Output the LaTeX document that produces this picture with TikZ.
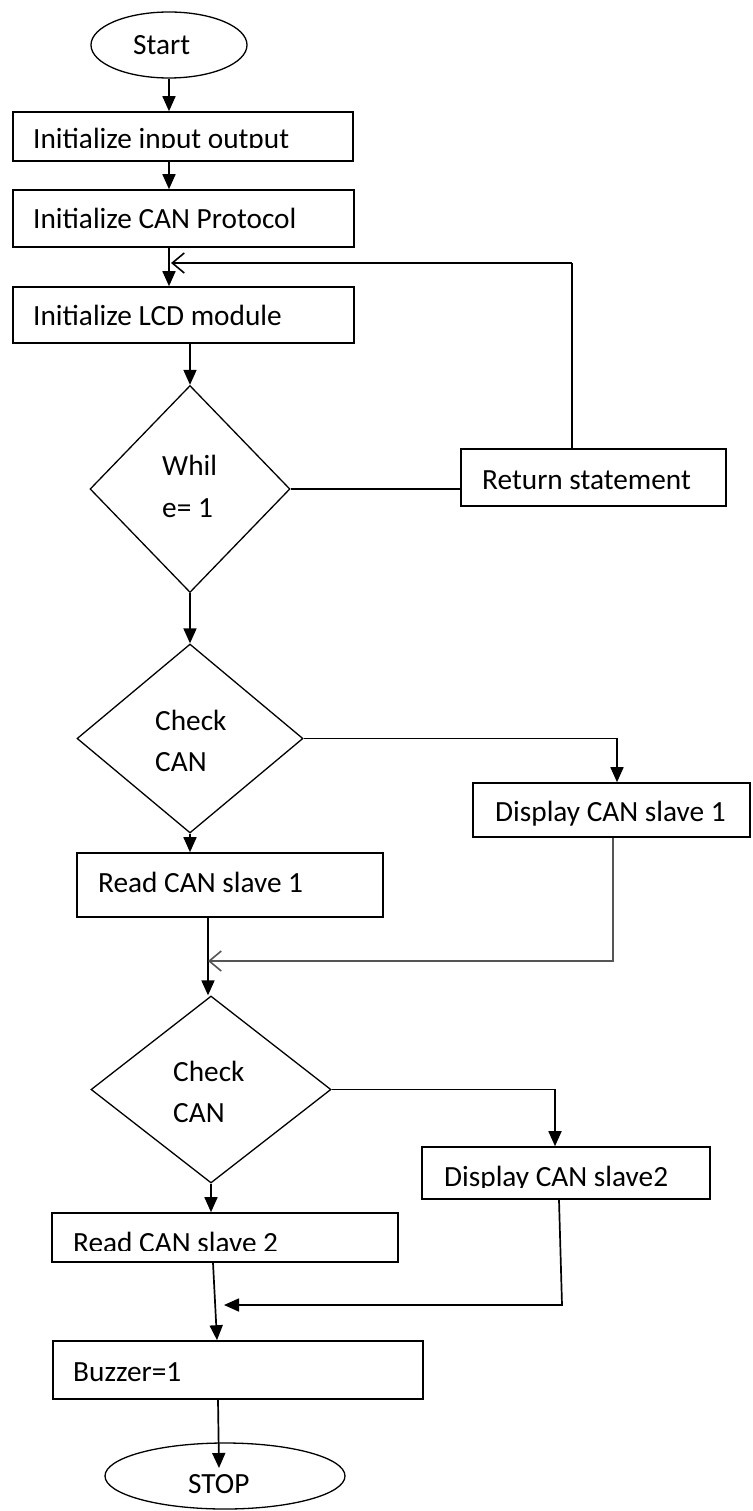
\documentclass[tikz,border=0pt]{standalone}
\usepackage{fontspec}
\setmainfont{Carlito}
\usetikzlibrary{shapes.geometric,arrows.meta}
\definecolor{retgray}{HTML}{555555}
\begin{document}
\begin{tikzpicture}[x=1pt,y=-1pt,
  box/.style={draw,line width=1.6pt,rectangle,inner sep=0pt},
  term/.style={draw,line width=1.3pt,ellipse,inner sep=0pt},
  dec/.style={draw,line width=1.3pt,diamond,inner sep=0pt},
  lbl/.style={anchor=base west,inner sep=0pt,font=\fontsize{29.3}{35}\selectfont},
  arr/.style={line width=1.7pt,-{Triangle[width=13pt,length=15pt]}},
  barb/.style={line width=1.6pt,-{Straight Barb[width=20pt,length=12pt]}},
  ln/.style={line width=1.6pt}]
\useasboundingbox (0,0) rectangle (752,1511);
% nodes
\node[term,minimum width=156pt,minimum height=66pt] (start) at (169,45) {};
\node[lbl] (tstart) at (133,55) {Start};
\node[box,minimum width=340pt,minimum height=49pt] (b1) at (183,136.5) {};
\begin{scope}
\clip (14,113) rectangle (352,147.5);
\node[lbl] (tb1) at (33,149) {Initialize input output};
\end{scope}
\node[box,minimum width=341pt,minimum height=57pt] (b2) at (183.5,218.5) {};
\node[lbl] (tb2) at (33,229) {Initialize CAN Protocol};
\node[box,minimum width=341pt,minimum height=56pt] (b3) at (183.5,315) {};
\node[lbl] (tb3) at (33,325) {Initialize LCD module};
\node[dec,minimum width=200pt,minimum height=207pt] (d1) at (190,489) {};
\node[lbl] (tw1) at (162,475) {Whil};
\node[lbl] (tw2) at (162,517) {e= 1};
\node[box,minimum width=265pt,minimum height=57pt] (ret) at (593.5,477.5) {};
\node[lbl] (tret) at (482,489) {Return statement};
\node[dec,minimum width=226pt,minimum height=189pt] (d2) at (190,738.5) {};
\node[lbl] (tc1) at (155,730) {Check};
\node[lbl] (tc2) at (155,771) {CAN};
\node[box,minimum width=277pt,minimum height=54pt] (disp1) at (611.5,810) {};
\node[lbl] (tdisp1) at (495,821) {Display CAN slave 1};
\node[box,minimum width=306pt,minimum height=64pt] (read1) at (230,885) {};
\node[lbl] (tread1) at (98,892) {Read CAN slave 1};
\node[dec,minimum width=240pt,minimum height=187pt] (d3) at (211,1089.5) {};
\node[lbl] (tc3) at (173,1081) {Check};
\node[lbl] (tc4) at (173,1122) {CAN};
\node[box,minimum width=288pt,minimum height=52pt] (disp2) at (566,1173) {};
\begin{scope}
\clip (423,1148) rectangle (709,1187.5);
\node[lbl] (tdisp2) at (444,1186) {Display CAN slave2};
\end{scope}
\node[box,minimum width=346pt,minimum height=49pt] (read2) at (225,1237.5) {};
\begin{scope}
\clip (53,1214) rectangle (397,1250);
\node[lbl] (tread2) at (73,1252) {Read CAN slave 2};
\end{scope}
\node[box,minimum width=370pt,minimum height=58pt] (buzz) at (238,1370) {};
\node[lbl] (tbuzz) at (73,1381) {Buzzer=1};
\node[term,minimum width=240pt,minimum height=66pt] (stop) at (225,1476) {};
\node[lbl] (tstop) at (188,1493) {STOP};
% connectors
\draw[arr] (start.south) -- (start.south |- b1.north);
\draw[arr] (start.south |- b1.south) -- (start.south |- b2.north);
\draw[arr] (start.south |- b2.south) -- (start.south |- b3.north);
\coordinate (rt) at (572,263);
\draw[ln] (ret.north -| rt) -- (rt);
\draw[barb] (rt) -- ([xshift=2pt]rt -| start.south);
\draw[arr] (d1.north |- b3.south) -- (d1.north);
\draw[ln] (d1.east) -- (d1.east -| ret.west);
\draw[arr] (d1.south) -- (d2.north);
\draw[arr] (d2.east) -| ([xshift=5.5pt]disp1.north);
\draw[arr] (d2.south) -- (d2.south |- read1.north);
\coordinate (r1) at (208,961);
\draw[arr] (r1 |- read1.south) -- (r1 |- d3.north);
\coordinate (g1) at (613,961);
\draw[barb,color=retgray] (g1 |- disp1.south) -- (g1) -- (r1);
\draw[arr] (d3.east) -| ([xshift=-11pt]disp2.north);
\draw[arr] (d3.south) -- (d3.south |- read2.north);
\draw[arr] ([xshift=-12pt]read2.south) -- ([xshift=-21pt]buzz.north);
\coordinate (c2) at (562,1305);
\coordinate (c3) at (224,1305);
\draw[arr] ([xshift=-7pt]disp2.south) -- (c2) -- (c3);
\coordinate (stopin) at (219,1468);
\draw[arr] ([xshift=-20pt]buzz.south) -- (stopin);
\end{tikzpicture}
\end{document}
